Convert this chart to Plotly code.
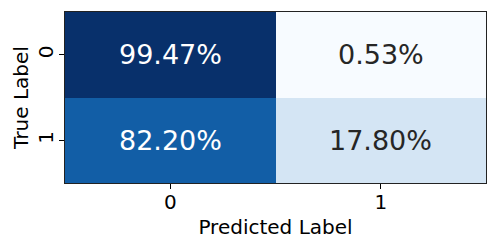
import plotly.graph_objects as go

pred_labels = ["0", "1"]
true_labels = ["0", "1"]
percent_values = [[99.47, 0.53], [82.20, 17.80]]

blues = [
    [0.0, "#f7fbff"], [0.125, "#deebf7"], [0.25, "#c6dbef"], [0.375, "#9ecae1"],
    [0.5, "#6baed6"], [0.625, "#4292c6"], [0.75, "#2171b5"], [0.875, "#08519c"],
    [1.0, "#08306b"],
]

flat = [v for row in percent_values for v in row]
zmin, zmax = min(flat), max(flat)

fig = go.Figure(go.Heatmap(
    z=percent_values, x=pred_labels, y=true_labels,
    colorscale=blues, zmin=zmin, zmax=zmax, showscale=False,
    xgap=0, ygap=0, hoverinfo="skip",
))

annotations = []
for i, t in enumerate(true_labels):
    for j, p in enumerate(pred_labels):
        v = percent_values[i][j]
        frac = (v - zmin) / (zmax - zmin)
        color = "white" if frac > 0.5 else "#262626"
        annotations.append(dict(
            x=p, y=t, xref="x", yref="y", text=f"{v:.2f}%", showarrow=False,
            font=dict(size=27, color=color, family="DejaVu Sans"),
        ))

fig.update_layout(
    width=498, height=249,
    margin=dict(l=65, r=12, t=12, b=66, autoexpand=False),
    paper_bgcolor="white", plot_bgcolor="white",
    font=dict(family="DejaVu Sans", color="black", size=20),
    annotations=annotations,
    xaxis=dict(
        title=dict(text="Predicted Label", font=dict(size=20), standoff=6),
        automargin=False,
        ticks="outside", ticklen=5, tickwidth=1, tickcolor="black",
        ticklabelstandoff=-4,
        showline=True, linecolor="#222", linewidth=1, mirror=True,
        tickfont=dict(size=20), showgrid=False, zeroline=False,
    ),
    yaxis=dict(
        title=dict(text="True Label", font=dict(size=20), standoff=0),
        automargin=False,
        autorange="reversed",
        ticks="outside", ticklen=5, tickwidth=1, tickcolor="black",
        ticklabelstandoff=-2,
        showline=True, linecolor="#222", linewidth=1, mirror=True,
        tickfont=dict(size=20), tickangle=-90, showgrid=False, zeroline=False,
    ),
)

fig.write_html("out.html", config={"displayModeBar": False},
               post_script="document.body.style.margin='0';")
